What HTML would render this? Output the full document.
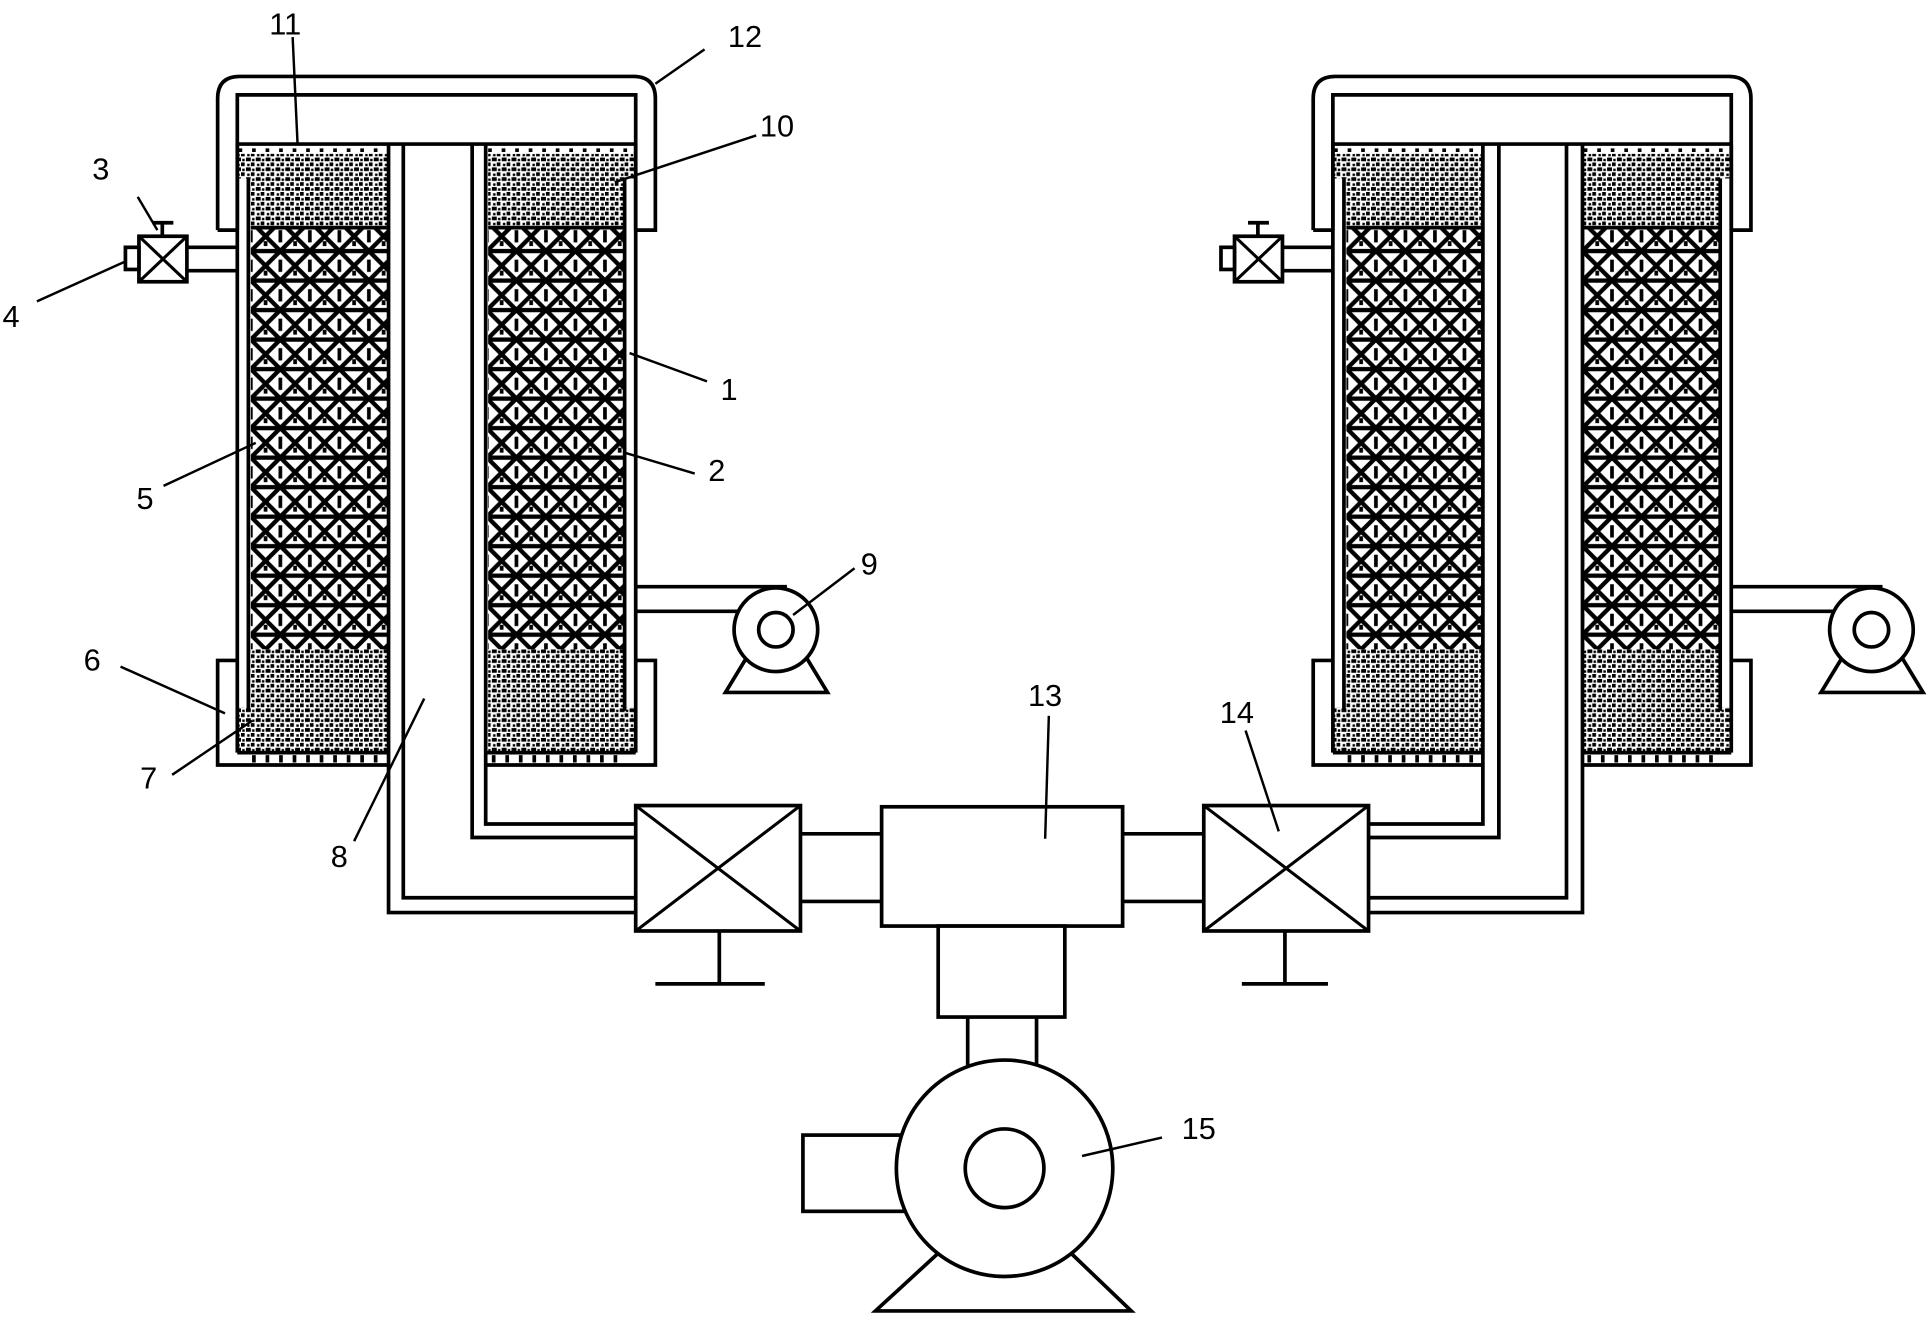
<!DOCTYPE html>
<html><head><meta charset="utf-8"><style>
html,body{margin:0;padding:0;background:#fff;}
svg{display:block;}
text{font-family:"Liberation Sans",sans-serif;font-size:25px;fill:#000;}
</style></head><body>
<svg width="1928" height="1332" viewBox="0 0 1568 1083" xmlns="http://www.w3.org/2000/svg">
<defs>
<pattern id="coarse" width="24" height="24" patternUnits="userSpaceOnUse">
<rect width="24" height="24" fill="#fff"/>
<path d="M0 0L24 24M24 0L0 24M0 12H24" stroke="#000" stroke-width="3.5" fill="none"/>
<path d="M12 0V5M12 19V24M0 4V8M24 4V8" stroke="#000" stroke-width="3"/>
</pattern>
<pattern id="fine" width="8" height="8" patternUnits="userSpaceOnUse">
<rect width="8" height="8" fill="#fff"/>
<rect x="0" y="0" width="4" height="3" fill="#000"/>
<rect x="4" y="4" width="3" height="3" fill="#000"/>
<rect x="5" y="1" width="2" height="2" fill="#000"/>
<rect x="1" y="5" width="2" height="2" fill="#000"/>
</pattern>
<g id="unit">
<path d="M177 187V80Q177 62 195 62H515Q533 62 533 80V187H517" fill="none" stroke="#000" stroke-width="3"/>
<path d="M193 187V77H517V187" fill="none" stroke="#000" stroke-width="3"/>
<line x1="177" y1="187" x2="193" y2="187" stroke="#000" stroke-width="3"/>
<line x1="193" y1="117" x2="517" y2="117" stroke="#000" stroke-width="3"/>
<rect x="194" y="125" width="121" height="20" fill="url(#fine)"/>
<rect x="204" y="145" width="111" height="40" fill="url(#fine)"/>
<rect x="397" y="125" width="120" height="20" fill="url(#fine)"/>
<rect x="397" y="145" width="111" height="40" fill="url(#fine)"/>
<rect x="204" y="185" width="111" height="343" fill="url(#coarse)"/>
<rect x="397" y="185" width="111" height="343" fill="url(#coarse)"/>
<rect x="204" y="528" width="111" height="85" fill="url(#fine)"/>
<rect x="397" y="528" width="111" height="85" fill="url(#fine)"/>
<rect x="194" y="575" width="12" height="37" fill="url(#fine)"/>
<rect x="506" y="575" width="11" height="37" fill="url(#fine)"/>
<line x1="204" y1="185" x2="315" y2="185" stroke="#000" stroke-width="3"/>
<line x1="397" y1="185" x2="508" y2="185" stroke="#000" stroke-width="3"/>
<line x1="194" y1="122" x2="315" y2="122" stroke="#000" stroke-width="3" stroke-dasharray="3 8"/>
<line x1="397" y1="122" x2="517" y2="122" stroke="#000" stroke-width="3" stroke-dasharray="3 8"/>
<line x1="193" y1="117" x2="193" y2="612" stroke="#000" stroke-width="3"/>
<line x1="202" y1="145" x2="202" y2="578" stroke="#000" stroke-width="3"/>
<line x1="517" y1="117" x2="517" y2="612" stroke="#000" stroke-width="3"/>
<line x1="508" y1="145" x2="508" y2="578" stroke="#000" stroke-width="3"/>
<line x1="193" y1="612" x2="316" y2="612" stroke="#000" stroke-width="3"/>
<line x1="395" y1="612" x2="517" y2="612" stroke="#000" stroke-width="3"/>
<path d="M193 537H177V622H316" fill="none" stroke="#000" stroke-width="3"/>
<path d="M517 537H533V622H395" fill="none" stroke="#000" stroke-width="3"/>
<line x1="205" y1="617" x2="316" y2="617" stroke="#000" stroke-width="6" stroke-dasharray="3 8"/>
<line x1="400" y1="617" x2="508" y2="617" stroke="#000" stroke-width="6" stroke-dasharray="3 8"/>
<rect x="113" y="192" width="39" height="37" fill="#fff" stroke="#000" stroke-width="3"/>
<path d="M113 192L152 229M152 192L113 229" stroke="#000" stroke-width="2.5"/>
<rect x="102" y="201" width="11" height="18" fill="#fff" stroke="#000" stroke-width="3"/>
<path d="M132 192V181M124 181H141" stroke="#000" stroke-width="3"/>
<path d="M152 201H193M152 220H193" stroke="#000" stroke-width="3"/>
<path d="M517 477H640M517 497H603" stroke="#000" stroke-width="3"/>
<path d="M607 535L590 563H673L656 535" fill="none" stroke="#000" stroke-width="3"/>
<circle cx="631" cy="512" r="34" fill="#fff" stroke="#000" stroke-width="3"/>
<circle cx="631" cy="512" r="14" fill="#fff" stroke="#000" stroke-width="3"/>
</g>
</defs>
<rect width="1568" height="1083" fill="#fff"/>
<use href="#unit"/>
<use href="#unit" transform="translate(891,0)"/>
<!-- left pipes (double walls) -->
<path d="M316 117V742H517M328 117V730H517" fill="none" stroke="#000" stroke-width="3"/>
<path d="M384 117V681H517M395 117V670H517" fill="none" stroke="#000" stroke-width="3"/>
<!-- right pipes -->
<path d="M1206 117V670H1113M1219 117V681H1113" fill="none" stroke="#000" stroke-width="3"/>
<path d="M1274 117V730H1113M1287 117V742H1113" fill="none" stroke="#000" stroke-width="3"/>
<path d="M651 678H717M651 733H717M913 678H979M913 733H979" stroke="#000" stroke-width="3"/>
<rect x="517" y="655" width="134" height="102" fill="#fff" stroke="#000" stroke-width="3"/>
<path d="M517 655L651 757M651 655L517 757" stroke="#000" stroke-width="2.5"/>
<path d="M585 757V800M533 800H622" stroke="#000" stroke-width="3"/>
<rect x="979" y="655" width="134" height="102" fill="#fff" stroke="#000" stroke-width="3"/>
<path d="M979 655L1113 757M1113 655L979 757" stroke="#000" stroke-width="2.5"/>
<path d="M1045 757V800M1010 800H1080" stroke="#000" stroke-width="3"/>
<rect x="717" y="656" width="196" height="97" fill="#fff" stroke="#000" stroke-width="3"/>
<rect x="763" y="753" width="103" height="74" fill="#fff" stroke="#000" stroke-width="3"/>
<path d="M787 827V870M843 827V870" stroke="#000" stroke-width="3"/>
<path d="M762 1020L712 1066H920L872 1020" fill="none" stroke="#000" stroke-width="3"/>
<rect x="653" y="923" width="85" height="62" fill="#fff" stroke="#000" stroke-width="3"/>
<circle cx="817" cy="950" r="88" fill="#fff" stroke="#000" stroke-width="3"/>
<circle cx="817" cy="950" r="32" fill="#fff" stroke="#000" stroke-width="3"/>
<g stroke="#000" stroke-width="2" fill="none">
<path d="M238 30L242 117"/>
<path d="M573 40L533 68"/>
<path d="M615 110L500 148"/>
<path d="M112 160L128 187"/>
<path d="M30 245L103 212"/>
<path d="M575 310L512 287"/>
<path d="M565 385L508 368"/>
<path d="M133 395L208 360"/>
<path d="M695 462L645 500"/>
<path d="M98 542L183 580"/>
<path d="M140 630L205 586"/>
<path d="M288 684L345 568"/>
<path d="M853 582L850 682"/>
<path d="M1013 594L1040 676"/>
<path d="M945 925L880 940"/>
</g>
<text x="219" y="28">11</text>
<text x="592" y="38">12</text>
<text x="618" y="111">10</text>
<text x="75" y="146">3</text>
<text x="2" y="266">4</text>
<text x="586" y="325">1</text>
<text x="576" y="391">2</text>
<text x="111" y="414">5</text>
<text x="700" y="467">9</text>
<text x="68" y="545">6</text>
<text x="114" y="641">7</text>
<text x="269" y="705">8</text>
<text x="836" y="574">13</text>
<text x="992" y="588">14</text>
<text x="961" y="926">15</text>
</svg>
</body></html>
